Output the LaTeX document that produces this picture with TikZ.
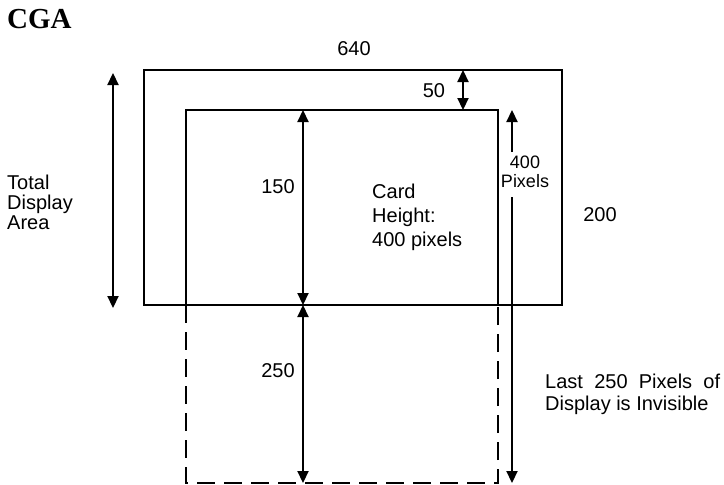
\documentclass[tikz,border=0pt]{standalone}
\usepackage{fontspec}
\setmainfont{Liberation Sans}
\newfontfamily\titlefont{Liberation Serif}
\usetikzlibrary{arrows.meta}
\tikzset{
  box/.style={line width=2.2pt},
  dbox/.style={line width=2.2pt, dash pattern=on 18pt off 9pt},
  dim/.style={line width=2.2pt, {Triangle[width=11pt,length=12pt]}-{Triangle[width=11pt,length=12pt]}},
  upar/.style={line width=2.2pt, -{Triangle[width=11pt,length=12pt]}},
  lbl/.style={inner sep=0pt, font=\fontsize{20}{20}\selectfont},
}
\begin{document}
\begin{tikzpicture}[x=1pt,y=-1pt]
\useasboundingbox (0,0) rectangle (724,485);
% title
\node[anchor=base west, inner sep=0pt, font=\titlefont\bfseries\fontsize{29}{30}\selectfont] (title) at (7,28) {CGA};
% coordinates
\coordinate (oTL) at (144,70);
\coordinate (oBR) at (562,305);
\coordinate (iTL) at (186,110);
\coordinate (iBR) at (498,305);
\coordinate (dBL) at (186,483);
\coordinate (dBR) at (498,483);
% rectangles
\draw[box] (oTL) rectangle (oBR);
\draw[box] (iTL) rectangle (iBR);
\draw[dbox] (iTL |- oBR) -- (dBL) -- (dBR) -- (iBR);
% arrows
\coordinate (lA) at (113,73);
\coordinate (lB) at (113,308);
\draw[dim] (lA) -- (lB);
\coordinate (fA) at (463,70);
\coordinate (fB) at (463,110);
\draw[dim] (fA) -- (fB);
\coordinate (mA) at (303,110);
\coordinate (mB) at (303,305);
\coordinate (mC) at (303,483);
\draw[dim] (mA) -- (mB);
\draw[dim] (mB) -- (mC);
\coordinate (rTip) at (512,110);
\coordinate (rS1) at (512,152);
\coordinate (rS2) at (512,197);
\coordinate (rBot) at (512,483);
\draw[upar] (rS1) -- (rTip);
\draw[upar] (rS2) -- (rBot);
% labels
\node[lbl] (l640) at (354,49) {640};
\node[lbl] (l50) at (434,91) {50};
\node[lbl] (l150) at (278,187) {150};
\node[lbl] (l250) at (278,371) {250};
\node[lbl] (l200) at (600,215) {200};
\node[lbl, align=center, font=\fontsize{18}{18.5}\selectfont] (l400) at (525,172) {400\\Pixels};
\node[lbl, align=left, anchor=west] (total) at (7,202) {Total\\Display\\Area};
\node[lbl, align=left, anchor=north west, font=\fontsize{20}{24}\selectfont] (card) at (372,184) {Card\\Height:\\400 pixels};
\node[lbl, align=left, anchor=west, font=\fontsize{20}{22}\selectfont] (last) at (545,394) {\hbox to 175pt{Last 250 Pixels of}\\Display is Invisible};
\end{tikzpicture}
\end{document}
